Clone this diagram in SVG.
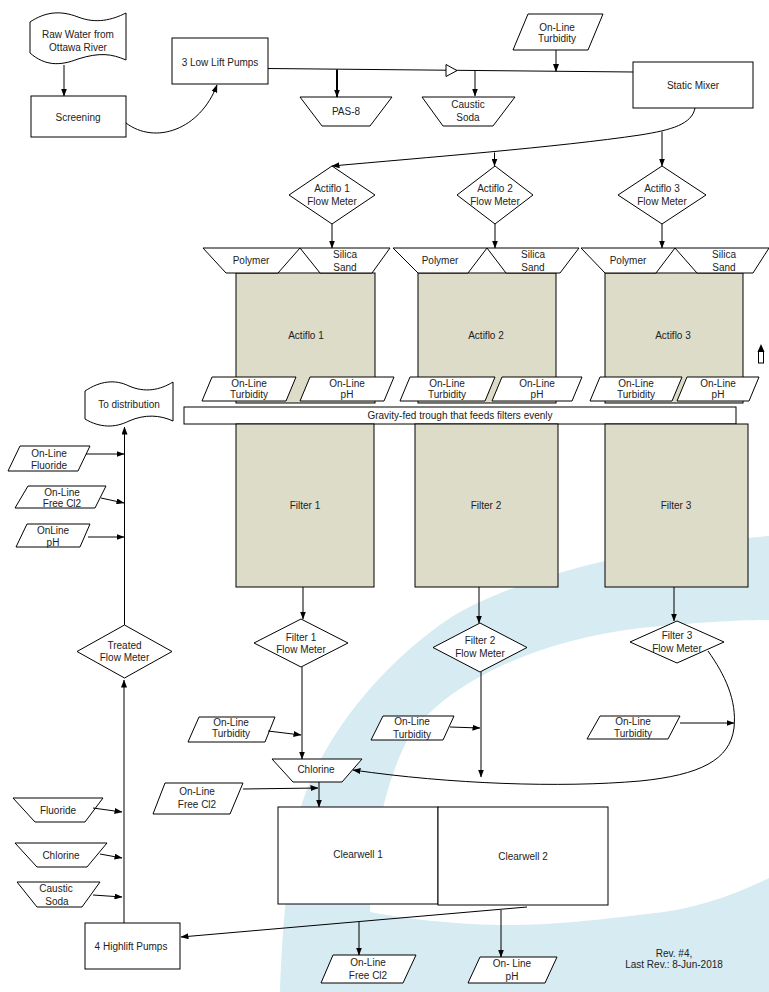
<svg xmlns="http://www.w3.org/2000/svg" width="769" height="992" viewBox="0 0 769 992">
<defs>
<marker id="ah" markerWidth="8" markerHeight="6" refX="7.5" refY="3" orient="auto" markerUnits="userSpaceOnUse"><path d="M0,0 L8,3 L0,6 Z" fill="#000"/></marker>
<style>
.s{fill:#fff;stroke:#000;stroke-width:1}
.b{fill:#dcdcc9;stroke:#000;stroke-width:1}
.t{font-family:"Liberation Sans",Arial,sans-serif;font-size:10px;fill:#222;text-anchor:middle}
.c{fill:none;stroke:#000;stroke-width:1}
.a{marker-end:url(#ah)}
</style>
</defs>
<rect width="769" height="992" fill="#fff"/>
<path id="watermark" d="M769,536 C650,545 520,575 450,618 C380,665 320,740 300,810 C288,860 282,930 280,992 L769,992 L769,878 C730,897 690,910 647,914 C600,920 540,926 500,925 C450,924 400,918 370,912 C372,860 380,790 410,735 C450,680 540,640 640,628 C700,622 740,620 769,620 Z" fill="#d6ebf2"/>

<g id="raw-water"><path class="s" d="M30,22 C45,12 60,10 78,17 C96,24 112,20 126,13 L126,60 C112,54 100,52 78,59 C60,66 45,66 30,53 Z"/><text class="t" x="78" y="37.5">Raw Water from</text><text class="t" x="78" y="50.5">Ottawa River</text></g>
<g id="screening"><rect class="s" x="31" y="96" width="95" height="41"/><text class="t" x="78" y="120.5">Screening</text></g>
<g id="low-lift"><rect class="s" x="172" y="38" width="96" height="46"/><text class="t" x="220" y="65.5">3 Low Lift Pumps</text></g>
<g id="pas8"><polygon class="s" points="300,97 392,97 370,126 322,126"/><text class="t" x="346" y="114.5">PAS-8</text></g>
<g id="caustic-top"><polygon class="s" points="422,97 515,97 493,126 443,126"/><text class="t" x="468" y="107.5">Caustic</text><text class="t" x="468" y="120.5">Soda</text></g>
<g id="turb-top"><polygon class="s" points="528,14 603,14 588,50 513,50"/><text class="t" x="557" y="30.5">On-Line</text><text class="t" x="557" y="41.5">Turbidity</text></g>
<g id="static-mixer"><rect class="s" x="633" y="62" width="120" height="46"/><text class="t" x="693" y="88.5">Static Mixer</text></g>

<g id="fm-a1"><polygon class="s" points="332,166 375,195 332,224 289,195"/><text class="t" x="332" y="191.5">Actiflo 1</text><text class="t" x="332" y="205">Flow Meter</text></g>
<g id="fm-a2"><polygon class="s" points="495,166 533,195 495,224 457,195"/><text class="t" x="495" y="191.5">Actiflo 2</text><text class="t" x="495" y="205">Flow Meter</text></g>
<g id="fm-a3"><polygon class="s" points="662,166 706,195 662,224 618,195"/><text class="t" x="662" y="191.5">Actiflo 3</text><text class="t" x="662" y="205">Flow Meter</text></g>

<g id="actiflo1"><rect class="b" x="236" y="273" width="139" height="130"/><text class="t" x="306" y="338.5">Actiflo 1</text></g>
<g id="actiflo2"><rect class="b" x="418" y="273" width="138" height="130"/><text class="t" x="486" y="338.5">Actiflo 2</text></g>
<g id="actiflo3"><rect class="b" x="605" y="273" width="138" height="130"/><text class="t" x="673" y="338.5">Actiflo 3</text></g>

<g id="polymer1"><polygon class="s" points="203,248 300,248 278,273 226,273"/><text class="t" x="251" y="263.5">Polymer</text></g>
<g id="silica1"><polygon class="s" points="300,248 390,248 372,273 320,273"/><text class="t" x="345" y="257.5">Silica</text><text class="t" x="345" y="270.5">Sand</text></g>
<g id="polymer2"><polygon class="s" points="393,248 487,248 468,273 418,273"/><text class="t" x="440" y="263.5">Polymer</text></g>
<g id="silica2"><polygon class="s" points="487,248 579,248 560,273 506,273"/><text class="t" x="533" y="257.5">Silica</text><text class="t" x="533" y="270.5">Sand</text></g>
<g id="polymer3"><polygon class="s" points="581,248 675,248 656,273 605,273"/><text class="t" x="628" y="263.5">Polymer</text></g>
<g id="silica3"><polygon class="s" points="675,248 769,248 753,273 697,273"/><text class="t" x="724" y="257.5">Silica</text><text class="t" x="724" y="270.5">Sand</text></g>

<g id="turb-a1"><polygon class="s" points="212,377 296,377 286,401 202,401"/><text class="t" x="249" y="386.5">On-Line</text><text class="t" x="249" y="397.5">Turbidity</text></g>
<g id="ph-a1"><polygon class="s" points="310,377 394,377 384,401 300,401"/><text class="t" x="347" y="386.5">On-Line</text><text class="t" x="347" y="397.5">pH</text></g>
<g id="turb-a2"><polygon class="s" points="410,377 495,377 485,401 400,401"/><text class="t" x="447" y="386.5">On-Line</text><text class="t" x="447" y="397.5">Turbidity</text></g>
<g id="ph-a2"><polygon class="s" points="502,377 582,377 572,401 492,401"/><text class="t" x="537" y="386.5">On-Line</text><text class="t" x="537" y="397.5">pH</text></g>
<g id="turb-a3"><polygon class="s" points="600,377 682,377 672,401 590,401"/><text class="t" x="636" y="386.5">On-Line</text><text class="t" x="636" y="397.5">Turbidity</text></g>
<g id="ph-a3"><polygon class="s" points="687,377 759,377 749,401 677,401"/><text class="t" x="718" y="386.5">On-Line</text><text class="t" x="718" y="397.5">pH</text></g>

<g id="small-arrow"><rect class="s" x="758.5" y="351" width="5" height="12"/><polygon points="757.5,352 761,344 764.5,352" fill="#000"/></g>

<g id="trough"><rect class="s" x="184" y="407" width="552" height="17"/><text class="t" x="460" y="419">Gravity-fed trough that feeds filters evenly</text></g>

<g id="filter1"><rect class="b" x="236" y="424" width="138" height="163"/><text class="t" x="305" y="508.5">Filter 1</text></g>
<g id="filter2"><rect class="b" x="415" y="424" width="143" height="163"/><text class="t" x="486" y="508.5">Filter 2</text></g>
<g id="filter3"><rect class="b" x="605" y="424" width="143" height="163"/><text class="t" x="676" y="508.5">Filter 3</text></g>

<g id="fm-f1"><polygon class="s" points="301,619 348,643 301,667 254,643"/><text class="t" x="301" y="640.5">Filter 1</text><text class="t" x="301" y="652.5">Flow Meter</text></g>
<g id="fm-f2"><polygon class="s" points="480,623 527,647.5 480,672 433,647.5"/><text class="t" x="480" y="643.5">Filter 2</text><text class="t" x="480" y="656.5">Flow Meter</text></g>
<g id="fm-f3"><polygon class="s" points="677,621 724,642 677,663 630,642"/><text class="t" x="677" y="638.5">Filter 3</text><text class="t" x="677" y="651.5">Flow Meter</text></g>

<g id="turb-f1"><polygon class="s" points="199,717 275,717 265,742 188,742"/><text class="t" x="231" y="725.5">On-Line</text><text class="t" x="231" y="736.5">Turbidity</text></g>
<g id="turb-f2"><polygon class="s" points="383,716 454,716 443,740 371,740"/><text class="t" x="412" y="724.5">On-Line</text><text class="t" x="412" y="737.5">Turbidity</text></g>
<g id="turb-f3"><polygon class="s" points="600,716 680,716 668,739 587,739"/><text class="t" x="633" y="724.5">On-Line</text><text class="t" x="633" y="737">Turbidity</text></g>

<g id="chlorine-main"><polygon class="s" points="272,759 362,759 342,782 293,782"/><text class="t" x="316" y="772.5">Chlorine</text></g>
<g id="freecl2-mid"><polygon class="s" points="165,783 243,783 230,814 153,814"/><text class="t" x="197" y="794.5">On-Line</text><text class="t" x="197" y="807.5">Free Cl2</text></g>

<g id="clearwell1"><rect class="s" x="278" y="807" width="160" height="97"/><text class="t" x="358" y="857.5">Clearwell 1</text></g>
<g id="clearwell2"><rect class="s" x="438" y="807" width="170" height="98"/><text class="t" x="523" y="859.5">Clearwell 2</text></g>

<g id="freecl2-bottom"><polygon class="s" points="333,955 416,955 403,983 321,983"/><text class="t" x="368" y="965.5">On-Line</text><text class="t" x="368" y="978.5">Free Cl2</text></g>
<g id="ph-bottom"><polygon class="s" points="480,957 557,957 545,983 468,983"/><text class="t" x="512" y="966.5">On- Line</text><text class="t" x="512" y="979.5">pH</text></g>

<g id="highlift"><rect class="s" x="85" y="923" width="95" height="46"/><text class="t" x="131" y="949.5">4 Highlift Pumps</text></g>
<g id="fluoride"><polygon class="s" points="13,798 103,798 85,822 35,822"/><text class="t" x="58" y="813.5">Fluoride</text></g>
<g id="chlorine-left"><polygon class="s" points="15,843 107,843 87,867 37,867"/><text class="t" x="61" y="858.5">Chlorine</text></g>
<g id="caustic-left"><polygon class="s" points="17,882 100,882 82,907 37,907"/><text class="t" x="56" y="891.5">Caustic</text><text class="t" x="57" y="904.5">Soda</text></g>

<g id="treated-fm"><polygon class="s" points="124.5,625 172,651.5 124.5,678 77,651.5"/><text class="t" x="124.5" y="648.5">Treated</text><text class="t" x="124.5" y="660.5">Flow Meter</text></g>
<g id="distribution"><path class="s" d="M85,391 C100,381 115,379 129,386 C145,393 160,390 173,382 L173,421 C160,415 145,414 129,421 C115,428 100,428 85,419 Z"/><text class="t" x="129" y="407.5">To distribution</text></g>
<g id="fluoride-online"><polygon class="s" points="20,446 90,446 78,471 8,471"/><text class="t" x="49" y="456.5">On-Line</text><text class="t" x="49" y="468.5">Fluoride</text></g>
<g id="freecl2-left"><polygon class="s" points="28,486 106,486 95,508 15,508"/><text class="t" x="62" y="495.5">On-Line</text><text class="t" x="62" y="506.5">Free Cl2</text></g>
<g id="ph-left"><polygon class="s" points="27,524 90,524 80,547 16,547"/><text class="t" x="53" y="533.5">OnLine</text><text class="t" x="53" y="546">pH</text></g>

<g id="rev"><text class="t" x="674" y="956.5">Rev. #4,</text><text class="t" x="674" y="967.5">Last Rev.: 8-Jun-2018</text></g>

<g id="connectors">
<path class="c a" d="M64,65 L64,96"/>
<path class="c a" d="M126,123 C155,145 200,130 217,85"/>
<path class="c" d="M268,68.5 L633,72"/>
<polygon class="s" points="446,64.5 457,70.6 446,76.5"/>
<path class="c a" style="stroke-width:2" d="M337,69.5 L337,97"/>
<path class="c a" d="M475,70.8 L475,96"/>
<path class="c a" d="M556,50 L556,71.5"/>
<path class="c a" d="M695,108 C692,124 672,130 640,135 C560,147 420,158 332,166"/>
<path class="c a" d="M494.5,152.5 L494.5,166"/>
<path class="c a" d="M662,131.5 L662,166"/>
<path class="c a" d="M332,224 L332,248"/>
<path class="c a" d="M495,224 L495,248"/>
<path class="c a" d="M662,224 L662,248"/>
<path class="c a" d="M303,587 L303,619"/>
<path class="c a" d="M479,587 L479,623"/>
<path class="c a" d="M674,587 L674,621"/>
<path class="c a" d="M302,667 L302,759"/>
<path class="c a" d="M268,731 L301,735"/>
<path class="c a" d="M481,672 L481,777"/>
<path class="c a" d="M450,727 L480,728"/>
<path class="c a" d="M708,651 C725,675 737,700 734,728 C730,760 700,775 640,781 C560,788 450,784 353,770"/>
<path class="c a" d="M680,723 L734,723"/>
<path class="c a" d="M243,789 L318,788"/>
<path class="c a" d="M319,782 L319,807"/>
<path class="c a" d="M527,907 L181,937"/>
<path class="c a" d="M359,922 L359,955"/>
<path class="c a" d="M501,910 L501,957"/>
<path class="c a" d="M124,923 L124,680"/>
<path class="c a" d="M124.5,625 L124.5,427"/>
<path class="c a" d="M86,454 L124,454"/>
<path class="c a" d="M101,498 L124,503"/>
<path class="c a" d="M88,537 L124,537"/>
<path class="c a" d="M93,808 L122,812"/>
<path class="c a" d="M100,854 L122,858"/>
<path class="c a" d="M93,895 L122,897"/>
</g>
</svg>
